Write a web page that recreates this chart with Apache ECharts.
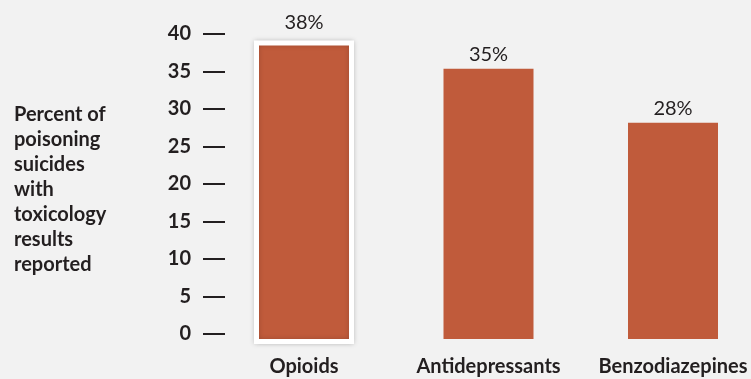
<!DOCTYPE html>
<html>
<head>
<meta charset="utf-8">
<script src="https://cdn.jsdelivr.net/npm/echarts@6/dist/echarts.min.js"></script>
<style>
html,body{margin:0;padding:0;background:#f2f2f2;}
#chart{width:751px;height:379px;}
</style>
</head>
<body>
<div id="chart"></div>
<script>
var categories = ['Opioids', 'Antidepressants', 'Benzodiazepines'];
var values = [38, 35, 28];
var highlightIndex = 0;
var tickValues = [0, 5, 10, 15, 20, 25, 30, 35, 40];
var yTitle = ['Percent of', 'poisoning', 'suicides', 'with', 'toxicology', 'results', 'reported'];

var normalData = values.map(function (v, i) { return i === highlightIndex ? '-' : v; });
var highlightData = values.map(function (v, i) { return i === highlightIndex ? v : '-'; });

var FONT = 'Lato';
var INK = '#231f20';
var BAR = '#c05b3b';

var chart = echarts.init(document.getElementById('chart'), null, {renderer: 'canvas'});
chart.setOption({
  backgroundColor: '#f2f2f2',
  animation: false,
  title: {
    text: yTitle.join('\n'),
    left: 9,
    top: 97,
    textStyle: {fontFamily: FONT, fontWeight: 'bold', fontSize: 20, color: INK, lineHeight: 25}
  },
  grid: [
    {left: 225, top: 34, width: 500, height: 300, outerBoundsMode: 'none', containLabel: false},
    {left: 211.75, top: 30, width: 553.5, height: 309, outerBoundsMode: 'none', containLabel: false},
    {left: 211.75, top: 24.6, width: 553.5, height: 319.4, outerBoundsMode: 'none', containLabel: false}
  ],
  xAxis: [
    {gridIndex: 0, type: 'value', show: false},
    {gridIndex: 1, type: 'category', data: categories,
     axisLine: {show: false}, axisTick: {show: false},
     axisLabel: {interval: 0, hideOverlap: false, margin: 18, fontFamily: FONT, fontWeight: 'bold', fontSize: 20, color: INK}},
    {gridIndex: 2, type: 'category', data: categories, show: false}
  ],
  yAxis: [
    {gridIndex: 0, type: 'value', min: tickValues[0], max: tickValues[tickValues.length - 1], interval: 5,
     axisLine: {show: false}, splitLine: {show: false},
     axisTick: {show: true, length: 22, lineStyle: {color: INK, width: 2}},
     axisLabel: {margin: 34, fontFamily: FONT, fontWeight: 'bold', fontSize: 20, color: INK}},
    {gridIndex: 1, type: 'value', min: 0, max: 40, show: false},
    {gridIndex: 2, type: 'value', min: 0, max: 40, show: false}
  ],
  series: [
    {type: 'bar', xAxisIndex: 1, yAxisIndex: 1, data: normalData, barWidth: 90,
     itemStyle: {color: BAR},
     label: {show: true, position: 'top', distance: 4, formatter: '{c}%',
             fontFamily: FONT, fontSize: 20, color: INK}},
    {type: 'bar', xAxisIndex: 2, yAxisIndex: 2, data: highlightData, barWidth: 100,
     itemStyle: {color: BAR, borderColor: '#ffffff', borderWidth: 5,
                 shadowBlur: 5, shadowColor: 'rgba(0,0,0,0.18)'},
     label: {show: true, position: 'top', distance: 8, formatter: '{c}%',
             fontFamily: FONT, fontSize: 20, color: INK}}
  ]
});
</script>
</body>
</html>
